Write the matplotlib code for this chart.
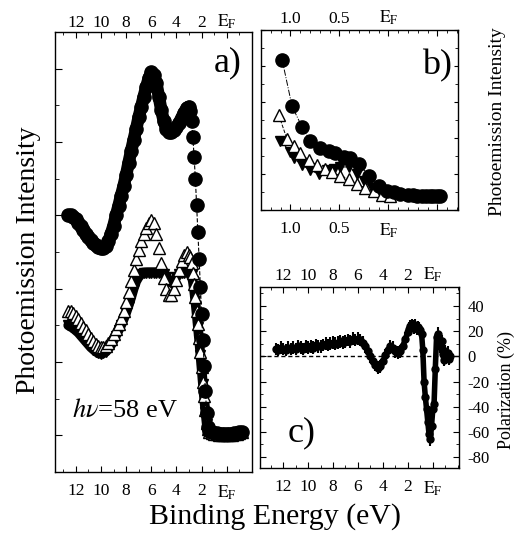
import matplotlib
matplotlib.use("Agg")
import matplotlib.pyplot as plt
from matplotlib.ticker import MultipleLocator, FixedLocator

plt.rcParams['font.family'] = ['Liberation Serif', 'DejaVu Serif']
plt.rcParams['mathtext.fontset'] = 'stix'
plt.rcParams['axes.unicode_minus'] = False

# ---------------- Panel a data ----------------
E_a = [12.6, 12.4, 12.2, 12.0, 11.8, 11.6, 11.4, 11.2, 11.0, 10.8, 10.6, 10.4, 10.2, 10.0,
       9.8, 9.6, 9.4, 9.2, 9.0, 8.8, 8.6, 8.4, 8.2, 8.0, 7.8, 7.6, 7.4, 7.2, 7.0,
       6.8, 6.6, 6.4, 6.2, 6.0, 5.8, 5.6, 5.4, 5.2, 5.0, 4.8, 4.6, 4.4, 4.2, 4.0,
       3.8, 3.6, 3.4, 3.2, 3.0, 2.9, 2.8, 2.7, 2.6, 2.5, 2.4, 2.3, 2.2, 2.1, 2.0,
       1.9, 1.8, 1.7, 1.6, 1.5, 1.4, 1.2, 1.0, 0.8, 0.6, 0.4, 0.2, 0.0,
       -0.2, -0.4, -0.6, -0.8, -1.0, -1.2]
circles_a = [3.50, 3.50, 3.48, 3.45, 3.40, 3.35, 3.30, 3.25, 3.20, 3.16, 3.12, 3.09, 3.07, 3.06,
             3.06, 3.08, 3.15, 3.25, 3.36, 3.50, 3.63, 3.77, 3.90, 4.05, 4.22, 4.38, 4.53, 4.68, 4.84,
             4.98, 5.12, 5.25, 5.37, 5.45, 5.42, 5.30, 5.12, 4.93, 4.78, 4.68, 4.63, 4.63, 4.66, 4.70,
             4.76, 4.83, 4.90, 4.96, 4.98, 4.92, 4.78, 4.57, 4.30, 4.00, 3.64, 3.27, 2.90, 2.52, 2.15,
             1.80, 1.45, 1.10, 0.80, 0.62, 0.56, 0.54, 0.53, 0.53, 0.52, 0.52, 0.52, 0.52,
             0.52, 0.52, 0.53, 0.53, 0.54, 0.55]
open_tri_a = [2.20, 2.20, 2.17, 2.13, 2.08, 2.03, 1.98, 1.93, 1.88, 1.83, 1.79, 1.75, 1.72, 1.70,
              1.70, 1.72, 1.76, 1.82, 1.88, 1.95, 2.02, 2.10, 2.20, 2.32, 2.45, 2.60, 2.75, 2.90, 3.03,
              3.15, 3.25, 3.33, 3.40, 3.44, 3.40, 3.25, 3.05, 2.85, 2.65, 2.50, 2.42, 2.42, 2.50, 2.62,
              2.75, 2.88, 2.96, 3.00, 2.96, 2.93, 2.85, 2.72, 2.56, 2.38, 2.20, 2.02, 1.83, 1.63, 1.43,
              1.23, 1.03, 0.84, 0.67, 0.58, 0.55, 0.53, 0.52, 0.52, 0.51, 0.51, 0.51, 0.51,
              0.51, 0.51, 0.52, 0.52, 0.53, 0.54]
filled_tri_a = [2.00, 1.98, 1.96, 1.93, 1.90, 1.86, 1.82, 1.78, 1.74, 1.70, 1.67, 1.64, 1.62, 1.61,
                1.62, 1.64, 1.68, 1.73, 1.79, 1.86, 1.93, 2.00, 2.08, 2.17, 2.27, 2.38, 2.50, 2.60, 2.66,
                2.70, 2.72, 2.72, 2.72, 2.72, 2.72, 2.72, 2.72, 2.72, 2.70, 2.66, 2.60, 2.58, 2.60, 2.66,
                2.70, 2.72, 2.72, 2.72, 2.72, 2.72, 2.68, 2.60, 2.48, 2.33, 2.16, 1.98, 1.80, 1.60, 1.40,
                1.20, 1.00, 0.82, 0.66, 0.57, 0.54, 0.52, 0.51, 0.50, 0.50, 0.50, 0.50, 0.50,
                0.50, 0.50, 0.51, 0.51, 0.52, 0.53]

# ---------------- Panel b data ----------------
E_b_circ = [1.085, 0.983, 0.881, 0.796, 0.694, 0.609, 0.541, 0.456, 0.388, 0.303, 0.20, 0.099,
            0.014, -0.054, -0.122, -0.20, -0.25, -0.29, -0.34, -0.38, -0.42, -0.46, -0.50, -0.53]
I_b_circ = [8.36, 5.76, 4.61, 3.83, 3.45, 3.26, 3.16, 2.97, 2.87, 2.58, 1.91, 1.33,
            1.04, 0.98, 0.90, 0.85, 0.82, 0.80, 0.80, 0.79, 0.78, 0.77, 0.77, 0.78]
E_b_open = [1.119, 1.034, 0.966, 0.898, 0.813, 0.728, 0.643, 0.575, 0.49, 0.405, 0.32, 0.235,
            0.15, 0.065, -0.02]
I_b_open = [5.28, 3.93, 3.54, 3.16, 2.77, 2.49, 2.29, 2.10, 1.91, 1.72, 1.43, 1.23,
            1.04, 0.85, 0.78]
E_b_fill = [1.102, 1.0, 0.966, 0.88, 0.796, 0.711, 0.626, 0.558, 0.49, 0.405, 0.32, 0.252,
            0.166, 0.082, 0.0]
I_b_fill = [3.83, 3.25, 2.87, 2.49, 2.20, 2.00, 2.20, 2.29, 2.39, 2.39, 2.00, 1.62,
            1.23, 0.95, 0.82]

# ---------------- Panel c data ----------------
E_c = [12.6, 12.4, 12.2, 12.0, 11.8, 11.6, 11.4, 11.2, 11.0, 10.8, 10.6, 10.4, 10.2, 10.0,
       9.8, 9.6, 9.4, 9.2, 9.0, 8.8, 8.6, 8.4, 8.2, 8.0, 7.8, 7.6, 7.4, 7.2, 7.0,
       6.8, 6.6, 6.4, 6.2, 6.0, 5.8, 5.6, 5.4, 5.2, 5.0, 4.8, 4.6, 4.4, 4.2, 4.0,
       3.8, 3.6, 3.4, 3.2, 3.0, 2.8, 2.6, 2.4, 2.2, 2.0, 1.9, 1.8, 1.7, 1.6, 1.5,
       1.4, 1.3, 1.2, 1.1, 1.0, 0.9, 0.8, 0.7, 0.6, 0.5, 0.4, 0.3, 0.2, 0.1, 0.0,
       -0.1, -0.2, -0.3, -0.4, -0.5, -0.6, -0.7, -0.8, -0.9, -1.0, -1.1, -1.2, -1.3, -1.4]
P_c = [6, 5, 7, 6, 5, 7, 6, 7, 6, 8, 7, 6, 8, 7,
       8, 7, 9, 8, 8, 9, 10, 9, 10, 11, 10, 11, 12, 11, 12,
       13, 12, 14, 13, 14, 13, 11, 8, 4, 0, -4, -7, -9, -8, -4,
       1, 5, 8, 7, 4, 3, 4, 8, 14, 19, 22, 24, 25, 24, 23,
       25, 22, 23, 22, 21, 18, 5, -20, -32, -42, -52, -62, -66, -55, -42,
       -38, -10, 15, 18, 14, 8, 12, 2, -3, 4, 0, 3, -2, 0]

# x tick labels
xt_big = [12, 10, 8, 6, 4, 2, 0]
xt_big_lab = ['12', '10', '8', '6', '4', '2', r'$\mathrm{E_F}$']
xt_b = [1.0, 0.5, 0.0, -0.5]
xt_b_lab = ['1.0', '0.5', r'$\mathrm{E_F}$', '']
yt_c = [40, 20, 0, -20, -40, -60, -80]

fig = plt.figure(figsize=(5.15, 5.38), dpi=100)
W, H = 515.0, 538.0

def axpix(l, t, r, b):
    return fig.add_axes([l / W, 1 - b / H, (r - l) / W, (b - t) / H])

tick_fs = 12.5

def style_x(ax, ticks, labels, minor, top_pad=3):
    ax.set_xticks(ticks)
    ax.set_xticklabels(labels)
    ax.xaxis.set_minor_locator(MultipleLocator(minor))
    ax.tick_params(axis='x', which='both', direction='in', top=True, bottom=True,
                   labeltop=False, labelbottom=True, labelsize=tick_fs, pad=8)
    ax.tick_params(axis='x', which='major', length=4, width=0.8)
    ax.tick_params(axis='x', which='minor', length=2, width=0.6)
    sec = ax.secondary_xaxis('top')
    sec.set_xticks(ticks)
    sec.set_xticklabels(labels)
    sec.tick_params(axis='x', which='both', direction='in', length=0, labelsize=tick_fs, pad=top_pad)
    sec.spines['top'].set_visible(False)
    for s in ax.spines.values():
        s.set_linewidth(1.0)

# ---- Panel a ----
n_smooth = 49  # points before the Fermi-edge drop (E >= 3.0)
axa = axpix(55, 32, 252, 472)
axa.plot(E_a, filled_tri_a, color='black', lw=7, solid_capstyle='round',
         marker='v', ms=7.5, mfc='black', mec='black')
axa.plot(E_a, open_tri_a, linestyle='none', marker='^', ms=8, mfc='white', mec='black', mew=1.0)
axa.plot(E_a[:n_smooth], circles_a[:n_smooth], color='black', lw=9, solid_capstyle='round')
axa.plot(E_a[n_smooth - 1:], circles_a[n_smooth - 1:], color='black', lw=0.8, ls='--')
axa.plot(E_a, circles_a, linestyle='none', marker='o', ms=9.5, mfc='black', mec='black')
axa.set_xlim(13.65, -2.0)
axa.set_ylim(0, 6)
style_x(axa, xt_big, xt_big_lab, 1, top_pad=0.5)
axa.yaxis.set_major_locator(FixedLocator([0.5, 1.5, 2.5, 3.5, 4.5, 5.5]))
axa.yaxis.set_minor_locator(FixedLocator([1, 2, 3, 4, 5]))
axa.tick_params(axis='y', which='both', direction='in', left=True, right=False, labelleft=False)
axa.tick_params(axis='y', which='major', length=5)
axa.tick_params(axis='y', which='minor', length=3)
axa.text(0.878, 0.93, 'a)', transform=axa.transAxes, fontsize=26, ha='center', va='center')
axa.text(0.355, 0.139, r'$h\nu$=58 eV', transform=axa.transAxes, fontsize=19, ha='center', va='center')

# ---- Panel b ----
axb = axpix(261, 30, 458, 210)
axb.plot(E_b_fill, I_b_fill, color='black', lw=0.7, ls='--', marker='v', ms=7.5, mfc='black', mec='black')
axb.plot(E_b_open, I_b_open, color='black', lw=0.7, ls='--', marker='^', ms=8, mfc='white', mec='black', mew=1.0)
axb.plot(E_b_circ, I_b_circ, color='black', lw=0.7, ls='-.', marker='o', ms=9.5, mfc='black', mec='black')
axb.set_xlim(1.30, -0.71)
axb.set_ylim(0, 10)
style_x(axb, xt_b, xt_b_lab, 0.1, top_pad=2)
axb.yaxis.set_major_locator(MultipleLocator(2))
axb.yaxis.set_minor_locator(MultipleLocator(1))
axb.tick_params(axis='y', which='both', direction='in', left=True, right=True,
                labelleft=False, labelright=False)
axb.tick_params(axis='y', which='major', length=3)
axb.tick_params(axis='y', which='minor', length=2)
axb.text(0.893, 0.80, 'b)', transform=axb.transAxes, fontsize=26, ha='center', va='center')

# ---- Panel c ----
axc = axpix(260, 287, 459, 468)
axc.axhline(0, color='black', lw=1.0, ls='--', dashes=(3, 2))
axc.plot(E_c, P_c, color='black', lw=4, solid_capstyle='round')
axc.errorbar(E_c, P_c, yerr=5, fmt='o', ms=5, color='black', ecolor='black', elinewidth=1.5,
             capsize=0)
axc.set_xlim(13.85, -2.1)
axc.set_ylim(-88.7, 55.1)
style_x(axc, xt_big, xt_big_lab, 1, top_pad=2)
axc.set_yticks(yt_c)
axc.set_yticklabels([str(v) for v in yt_c])
axc.yaxis.set_minor_locator(MultipleLocator(10))
axc.tick_params(axis='y', which='both', direction='in', left=True, right=True,
                labelleft=False, labelright=True, labelsize=12, pad=6)
axc.tick_params(axis='y', which='major', length=4)
axc.tick_params(axis='y', which='minor', length=2)
axc.text(0.211, 0.193, 'c)', transform=axc.transAxes, fontsize=26, ha='center', va='center')

# ---- Figure labels ----
fig.text(29 / W, 1 - 260 / H, 'Photoemission Intensity', rotation=90, fontsize=20,
         ha='center', va='center')
fig.text(275 / W, 1 - 517 / H, 'Binding Energy (eV)', fontsize=21.5, ha='center', va='center')
fig.text(498 / W, 1 - 122 / H, 'Photoemission Intensity', rotation=90, fontsize=14,
         ha='center', va='center')
fig.text(506 / W, 1 - 390 / H, 'Polarization (%)', rotation=90, fontsize=13,
         ha='center', va='center')

fig.savefig('out.png', dpi=100)
